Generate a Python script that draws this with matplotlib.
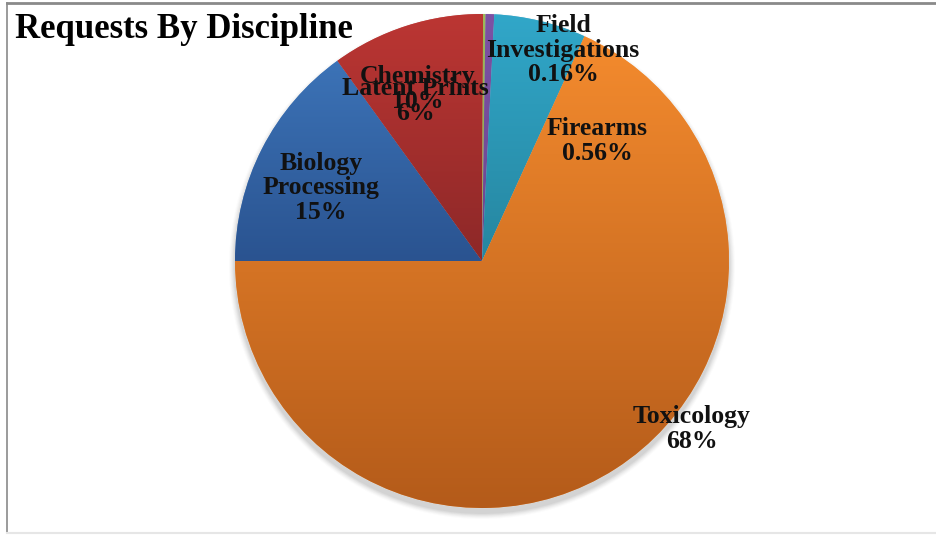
import numpy as np
import matplotlib
matplotlib.use("Agg")
import matplotlib.pyplot as plt
from matplotlib.patches import Circle
from matplotlib.lines import Line2D
from matplotlib.colors import LinearSegmentedColormap

# ---- data ----
categories = ["Biology\nProcessing", "Chemistry", "Field\nInvestigations",
              "Firearms", "Latent Prints", "Toxicology"]
values = [15, 10, 0.16, 0.56, 6, 68]
pct_labels = ["15%", "10%", "0.16%", "0.56%", "6%", "68%"]
# label text as drawn in the original
label_text = ["Biology\nProcessing\n15%", "Chemistry\n10%", "Field\nInvestigations\n0.16%",
              "Firearms\n0.56%", "Latent Prints\n6%", "Toxicology\n68%"]
title = "Requests By Discipline"

# ---- style ----
top_colors = ["#3c73b7", "#bc3633", "#9bbb59", "#7d52a4", "#31a7c9", "#f48b2e"]
bot_colors = ["#2a5390", "#8d2828", "#8aa94c", "#6c4690", "#2686a0", "#b45b1a"]
label_r = [0.716, 0.743, 0.915, 0.673, 0.702, 1.089]
label_ang = [155.6, 110.4, 69.0, 46.2, 112.7, -38.7]

W, H = 936, 536
fig = plt.figure(figsize=(W / 100, H / 100), dpi=100)
ax = fig.add_axes([0, 0, 1, 1])
cx, cy, R = 482, 261, 247

# drop shadow
for i, a in enumerate(np.linspace(0.06, 0.02, 6)):
    ax.add_patch(Circle((0, -5 / R), 1 + (i + 1) * 1.0 / R, color="#404040",
                        alpha=a, lw=0, zorder=0))

wedges, _ = ax.pie(values, startangle=180, counterclock=False,
                   colors=top_colors, wedgeprops=dict(lw=0.6, edgecolor="none"))

grad = np.linspace(0, 1, 256).reshape(-1, 1)
for w, c0, c1 in zip(wedges, top_colors, bot_colors):
    ext = w.get_path().get_extents()
    cmap = LinearSegmentedColormap.from_list("g", [c0, c1])
    im = ax.imshow(grad, cmap=cmap, aspect="auto", origin="upper",
                   extent=(ext.x0, ext.x1, ext.y0, ext.y1), zorder=2,
                   interpolation="bilinear")
    im.set_clip_path(w)
    w.set_zorder(1)

for w in wedges:
    w.set_edgecolor((1, 1, 1, 0.25))

ax.set_xlim(-cx / R, (W - cx) / R)
ax.set_ylim(-(H - cy) / R, cy / R)
ax.set_aspect("auto")
ax.axis("off")

for txt, r, a in zip(label_text, label_r, label_ang):
    t = np.deg2rad(a)
    ax.text(r * np.cos(t), r * np.sin(t), txt, ha="center", va="center",
            family="Liberation Serif", weight="bold", fontsize=18.5,
            linespacing=1.1, color="#111111", zorder=5)

fig.text(15 / W, 1 - 38 / H, title, ha="left", va="baseline",
         family="Liberation Serif", weight="bold", fontsize=25, color="black")

# frame
fig.add_artist(Line2D([7 / W, 1], [1 - 2.5 / H, 1 - 2.5 / H], color="#8a8a8a", lw=2))
fig.add_artist(Line2D([7 / W, 7 / W], [1 - 2.5 / H, 3 / H], color="#8a8a8a", lw=1.2))
fig.add_artist(Line2D([7 / W, 1], [3 / H, 3 / H], color="#e6e6e6", lw=1.5))

fig.savefig("out.png", dpi=100)
